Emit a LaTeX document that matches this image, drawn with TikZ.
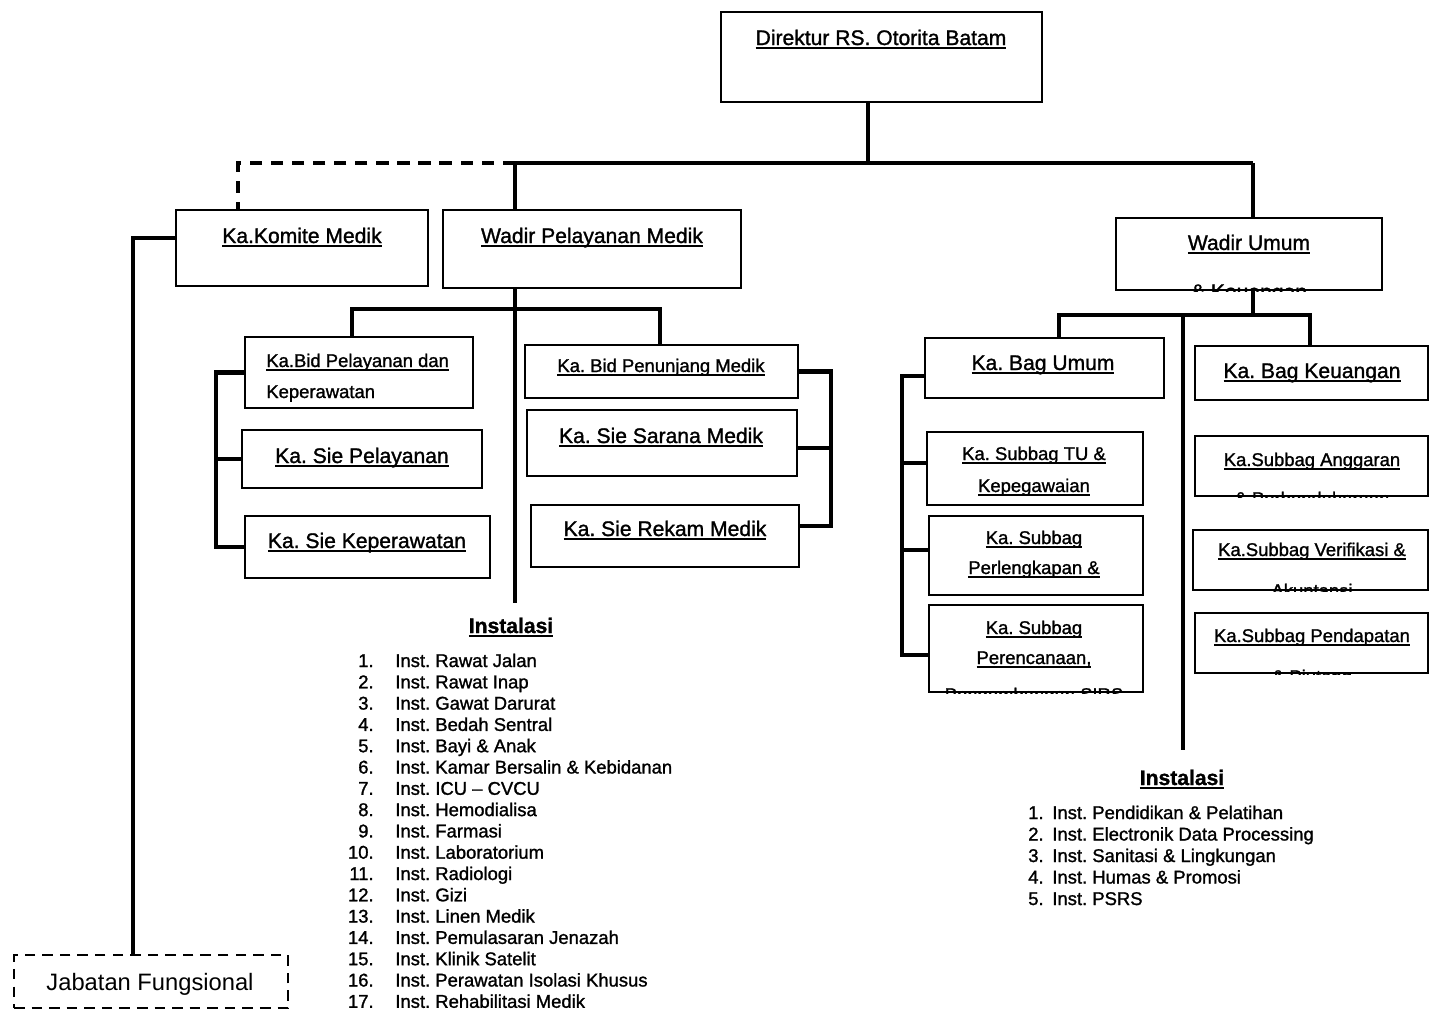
\documentclass[tikz,border=0pt]{standalone}
\usepackage{fontspec}
\setmainfont{Liberation Sans}[FakeBold=1.3]
\newfontfamily\plainfont{Liberation Sans}
\usetikzlibrary{fit}
\frenchspacing
\newcommand\ulx[1]{\setbox0\hbox{#1}\vtop{\hbox{\copy0}\kern-\dp0\kern1.4pt\hrule height 0.7pt}}
\begin{document}
\begin{tikzpicture}[x=0.02cm,y=-0.02cm,
  box/.style={draw, line width=1.3pt, inner sep=0pt},
  dbox/.style={draw, line width=1.3pt, dash pattern=on 6pt off 4pt, inner sep=0pt},
  conn/.style={line width=2.7pt},
  dconn/.style={line width=2.2pt, dash pattern=on 7pt off 5pt},
  lbl/.style={anchor=base, inner sep=0pt, font=\fontsize{12}{14}\selectfont},
  slbl/.style={anchor=base, inner sep=0pt, font=\fontsize{10.5}{12}\selectfont},
  item/.style={anchor=base west, inner sep=0pt, font=\fontsize{10.5}{12}\selectfont},
  num/.style={anchor=base east, inner sep=0pt, font=\fontsize{10.5}{12}\selectfont},
  head/.style={anchor=base, inner sep=0pt, font=\fontsize{12}{14}\selectfont\bfseries},
]
\useasboundingbox (0,0) rectangle (1430,1011);

% ---------- boxes ----------
\node[box, fit={(721,12) (1042,102)}] (dir) {};
\node[box, fit={(176,210) (428,286)}] (kom) {};
\node[box, fit={(443,210) (741,288)}] (wpm) {};
\node[box, fit={(1116,218) (1382,290)}] (wu) {};
\node[box, fit={(245,337) (473,408)}] (kbp) {};
\node[box, fit={(242,430) (482,488)}] (sp) {};
\node[box, fit={(245,516) (490,578)}] (sk) {};
\node[box, fit={(525,345) (798,398)}] (kbpm) {};
\node[box, fit={(527,410) (797,476)}] (ssm) {};
\node[box, fit={(531,505) (799,567)}] (srm) {};
\node[box, fit={(925,338) (1164,398)}] (bu) {};
\node[box, fit={(1195,346) (1428,400)}] (bk) {};
\node[box, fit={(927,432) (1143,505)}] (stu) {};
\node[box, fit={(929,516) (1143,595)}] (spl) {};
\node[box, fit={(929,605) (1143,692)}] (spr) {};
\node[box, fit={(1195,436) (1428,496)}] (sag) {};
\node[box, fit={(1193,530) (1428,590)}] (svr) {};
\node[box, fit={(1195,613) (1428,673)}] (spd) {};
\node[dbox, fit={(14,955) (288,1008)}] (jab) {};

% ---------- labels ----------
\node[lbl] (tdir) at (881,45) {\ulx{Direktur RS. Otorita Batam}};
\node[lbl] (tkom) at (302,243) {\ulx{Ka.Komite Medik}};
\node[lbl] (twpm) at (592,243) {\ulx{Wadir Pelayanan Medik}};
\node[lbl] (twu) at (1249,250) {\ulx{Wadir Umum}};
\begin{scope}
  \clip (wu.south west) rectangle (wu.north east);
  \node[lbl] (twu2) at (1249,299) {\ulx{\& Keuangan}};
\end{scope}
\node[slbl, anchor=base west] (tkbp) at (266,367) {\ulx{Ka.Bid Pelayanan dan}};
\node[slbl, anchor=base west] (tkbp2) at (266,398) {Keperawatan};
\node[lbl] (tsp) at (362,463) {\ulx{Ka. Sie Pelayanan}};
\node[lbl] (tsk) at (367,548) {\ulx{Ka. Sie Keperawatan}};
\node[slbl] (tkbpm) at (661,372) {\ulx{Ka. Bid Penunjang Medik}};
\node[lbl] (tssm) at (661,443) {\ulx{Ka. Sie Sarana Medik}};
\node[lbl] (tsrm) at (665,536) {\ulx{Ka. Sie Rekam Medik}};
\node[lbl] (tbu) at (1043,370) {\ulx{Ka. Bag Umum}};
\node[lbl] (tbk) at (1312,378) {\ulx{Ka. Bag Keuangan}};
\node[slbl] (tstu) at (1034,460) {\ulx{Ka. Subbag TU \&}};
\node[slbl] (tstu2) at (1034,492) {\ulx{Kepegawaian}};
\node[slbl] (tspl) at (1034,544) {\ulx{Ka. Subbag}};
\node[slbl] (tspl2) at (1034,574) {\ulx{Perlengkapan \&}};
\node[slbl] (tspr) at (1034,634) {\ulx{Ka. Subbag}};
\node[slbl] (tspr2) at (1034,664) {\ulx{Perencanaan,}};
\begin{scope}
  \clip (spr.south west) rectangle (spr.north east);
  \node[slbl] (tspr3) at (1034,701) {\ulx{Pengembangan SIRS}};
\end{scope}
\node[slbl] (tsag) at (1312,466) {\ulx{Ka.Subbag Anggaran}};
\begin{scope}
  \clip (sag.south west) rectangle (sag.north east);
  \node[slbl] (tsag2) at (1312,505) {\ulx{\& Perbendaharaan}};
\end{scope}
\node[slbl] (tsvr) at (1312,556) {\ulx{Ka.Subbag Verifikasi \&}};
\begin{scope}
  \clip (svr.south west) rectangle (svr.north east);
  \node[slbl] (tsvr2) at (1312,597) {\ulx{Akuntansi}};
\end{scope}
\node[slbl] (tspd) at (1312,642) {\ulx{Ka.Subbag Pendapatan}};
\begin{scope}
  \clip (spd.south west) rectangle (spd.north east);
  \node[slbl] (tspd2) at (1312,683) {\ulx{\& Piutang}};
\end{scope}
\node[anchor=base, inner sep=0pt, font=\plainfont\fontsize{13.5}{16}\selectfont] (tjab) at (150,990) {Jabatan Fungsional};

% ---------- connectors ----------
\coordinate (jtop) at (868,163);
\coordinate (jL) at (515,163);
\coordinate (jR) at (1253,163);
\coordinate (jD) at (238,163);
\draw[conn] (dir.south -| jtop) -- (jtop);
\draw[conn] (jL) -- (jR);
\draw[conn] (jL) -- (wpm.north -| jL);
\draw[conn] (jR) -- (wu.north -| jR);
\draw[dconn] (jL) -- (jD) -- (kom.north -| jD);

\coordinate (kL) at (133,238);
\draw[conn] (kom.west |- kL) -- (kL) -- (jab.north -| kL);

\coordinate (wpEnd) at (515,603);
\draw[conn] (wpm.south -| wpEnd) -- (wpEnd);
\coordinate (h1) at (352,309);
\coordinate (h2) at (660,309);
\draw[conn] (kbp.north -| h1) -- (h1) -- (h2) -- (kbpm.north -| h2);

\coordinate (lbx) at (216,0);
\draw[conn] (kbp.west) -- (kbp.west -| lbx) -- (sk.west -| lbx) -- (sk.west);
\draw[conn] (sp.west) -- (sp.west -| lbx);

\coordinate (mbx) at (831,0);
\coordinate (srmc) at ([yshift=0.2cm]srm.east);
\draw[conn] (kbpm.east) -- (kbpm.east -| mbx) -- (srmc -| mbx) -- (srmc);
\coordinate (ssmc) at ([yshift=-0.1cm]ssm.east);
\draw[conn] (ssmc) -- (ssmc -| mbx);

\coordinate (wuj) at (1253,315);
\coordinate (r1) at (1059,315);
\coordinate (r2) at (1310,315);
\coordinate (rc) at (1183,315);
\coordinate (rcEnd) at (1183,750);
\draw[conn] (wu.south -| wuj) -- (wuj);
\draw[conn] (bu.north -| r1) -- (r1) -- (r2) -- (bk.north -| r2);
\draw[conn] (rc) -- (rcEnd);

\coordinate (rb1) at (902,376);
\coordinate (rb2) at (902,463);
\coordinate (rb3) at (902,550);
\coordinate (rb4) at (902,655);
\draw[conn] (bu.west |- rb1) -- (rb1) -- (rb4) -- (spr.west |- rb4);
\draw[conn] (stu.west |- rb2) -- (rb2);
\draw[conn] (spl.west |- rb3) -- (rb3);

% ---------- Instalasi lists ----------
\node[head] (hl) at (511,633) {\ulx{Instalasi}};
\foreach \t [count=\i] in {Inst. Rawat Jalan, Inst. Rawat Inap, Inst. Gawat Darurat, Inst. Bedah Sentral, Inst. Bayi \& Anak, Inst. Kamar Bersalin \& Kebidanan, Inst. ICU -- CVCU, Inst. Hemodialisa, Inst. Farmasi, Inst. Laboratorium, Inst. Radiologi, Inst. Gizi, Inst. Linen Medik, Inst. Pemulasaran Jenazah, Inst. Klinik Satelit, Inst. Perawatan Isolasi Khusus, Inst. Rehabilitasi Medik}{
  \node[num] (ln\i) at (374,{667+21.3*(\i-1)}) {\i.};
  \node[item] (lt\i) at (395,{667+21.3*(\i-1)}) {\t};
}
\node[head] (hr) at (1182,785) {\ulx{Instalasi}};
\foreach \t [count=\i] in {Inst. Pendidikan \& Pelatihan, Inst. Electronik Data Processing, Inst. Sanitasi \& Lingkungan, Inst. Humas \& Promosi, Inst. PSRS}{
  \node[num] (rn\i) at (1044,{819+21.5*(\i-1)}) {\i.};
  \node[item] (rt\i) at (1052,{819+21.5*(\i-1)}) {\t};
}
\end{tikzpicture}
\end{document}
